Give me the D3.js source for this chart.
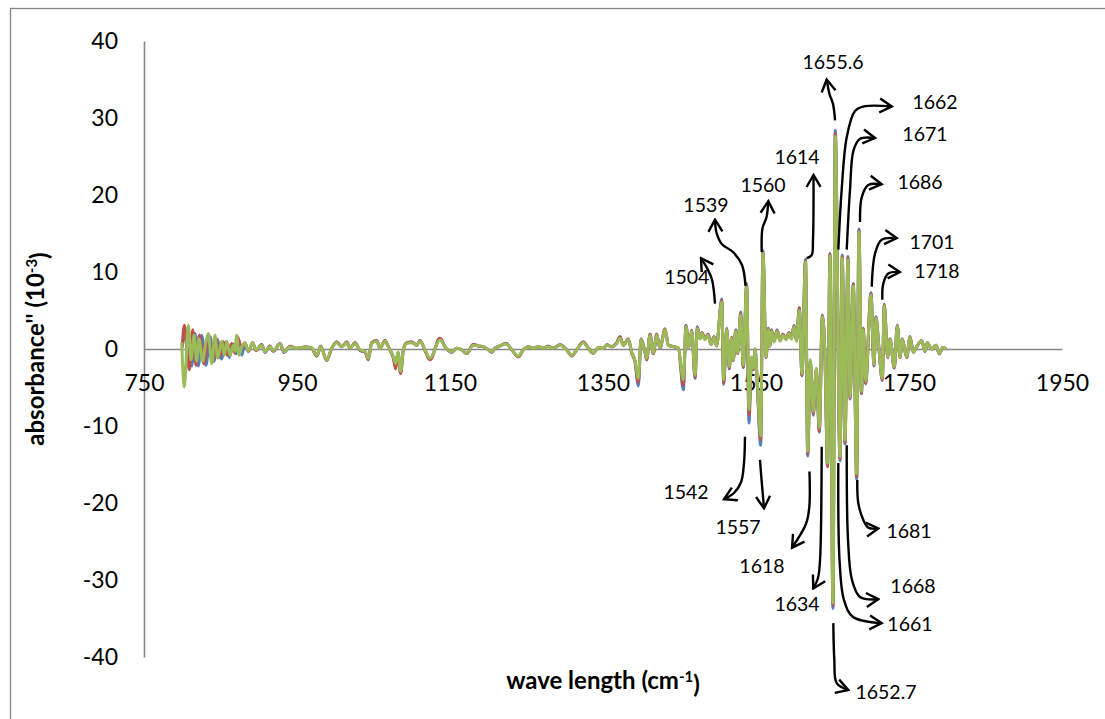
<!DOCTYPE html>
<html>
<head>
<meta charset="utf-8">
<script src="https://cdn.jsdelivr.net/npm/d3@7"></script>
<style>
  body { margin: 0; background: #fff; }
  svg { display: block; font-family: Lato, "Open Sans", sans-serif; }
</style>
</head>
<body>
<div id="chart"></div>
<script>
// chart size and plot box
const WIDTH = 1105, HEIGHT = 719;
const plot = {left: 144, right: 1062, top: 41, bottom: 657};

// axis ticks
const xTicks = [750, 950, 1150, 1350, 1550, 1750, 1950];
const yTicks = [-40, -30, -20, -10, 0, 10, 20, 30, 40];

// start of the spectrum, where the three runs are out of phase
const startWaveBlue = [800, 804.9, 812.3, 816.7, 821.0, 825.4, 831.0, 836.3, 841.5, 845.8, 851.6, 857.2, 861.5, 866.7, 870.3, 873.3];
const startAbsBlue = [0.2, 2.5, -2.2, 2.0, -2.2, 1.8, -2.1, 1.6, -1.6, 1.25, -1.3, 0.95, -1.1, 0.65, -0.65, 1.25];
const startWaveRed = [800, 802.7, 809.2, 813.7, 818.0, 822.3, 828.4, 834.1, 839.8, 844.1, 848.4, 853.7, 858.9, 864.6, 869.0, 872.0];
const startAbsRed = [0.3, 3.1, -2.7, 2.5, -2.1, 1.8, -1.9, 1.6, -1.6, 1.4, -1.1, 0.95, -0.8, 0.7, -0.55, 1.6];
const startWaveGreen = [799.3, 802.7, 807.9, 811.4, 815.4, 818.9, 821.9, 826.7, 830.4, 834.1, 838.5, 842.8, 846.3, 851.6, 855.0, 858.1, 862.4, 866.7, 869.0, 871.2, 874.2];
const startAbsGreen = [0.9, -4.9, 3.1, -1.4, 1.8, -1.6, 1.3, -1.6, 0.6, 2.0, -1.9, 1.8, -1.2, 1.0, -0.8, 1.0, -0.8, 0.5, -0.3, 1.8, -0.8];

// rest of the spectrum (wave number, cm-1), shared by the three runs
const wave = [
  877.7, 882.0, 886.3, 892.1, 896.4, 903.8, 908.2, 914.7, 919.0, 927.8,
  933.0, 940.9, 949.6, 960.5, 969.2, 975.8, 981.0, 988.8, 995.4, 1001.9,
  1008.4, 1015.0, 1019.3, 1025.8, 1032.4, 1038.9, 1043.2, 1047.6, 1054.2, 1058.5,
  1065.0, 1069.4, 1075.9, 1079.0, 1082.0, 1085.5, 1089.0, 1093.4, 1099.9, 1106.5,
  1110.8, 1117.3, 1123.9, 1136.9, 1143.5, 1152.2, 1158.8, 1165.3, 1171.8, 1180.5,
  1187.0, 1193.6, 1200.1, 1204.5, 1208.8, 1215.4, 1223.2, 1230.7, 1239.3, 1245.8,
  1252.4, 1258.9, 1265.4, 1272.0, 1278.5, 1285.0, 1293.8, 1302.5, 1309.1, 1315.6,
  1324.3, 1330.8, 1337.3, 1343.9, 1350.4, 1354.8, 1361.4, 1367.9, 1372.2, 1376.6,
  1383.1, 1387.5, 1391.8, 1396.2, 1399.7, 1404.9, 1407.1, 1411.5, 1415.8, 1420.2,
  1424.5, 1431.1, 1435.4, 1442.0, 1448.5, 1455.0, 1458.5, 1462.0, 1466.0, 1470.3,
  1473.3, 1476.8, 1479.4, 1483.3, 1487.3, 1491.2, 1495.1, 1498.4, 1505.2, 1507.8,
  1511.7, 1515.1, 1518.0, 1520.3, 1523.5, 1526.1, 1530.0, 1533.4, 1537.8, 1540.8,
  1544.1, 1546.7, 1548.7, 1551.3, 1556.1, 1559.1, 1563.1, 1566.1, 1568.3, 1570.5,
  1573.5, 1577.5, 1581.4, 1585.3, 1589.2, 1593.2, 1596.4, 1599.7, 1602.9, 1606.6,
  1610.1, 1614.7, 1617.6, 1621.0, 1624.9, 1628.7, 1632.8, 1636.7, 1640.2, 1643.5,
  1646.7, 1650.6, 1653.6, 1659.8, 1662.7, 1666.3, 1670.2, 1672.9, 1677.2, 1681.6,
  1684.6, 1687.9, 1690.2, 1693.3, 1700.3, 1704.2, 1706.8, 1710.8, 1715.1, 1717.7,
  1722.1, 1725.2, 1730.8, 1734.7, 1738.2, 1741.2, 1747.0, 1751.3, 1755.6, 1760.1,
  1766.6, 1770.9, 1773.9, 1779.7, 1785.3, 1789.6, 1794.1, 1798.4
];

const blueAbs = [
  -0.8, 0.7, -0.3, 0.8, -0.2, 0.6, -0.45, 0.4, -0.3, 0.7,
  -0.45, 0.35, 0.1, 0.25, 0.1, -0.9, 0.35, -1.5, 0.1, 0.9,
  0.3, 0.9, 0.1, 0.8, -0.2, -0.4, -1.3, 0.8, 1.1, 0.1,
  1.1, 0.3, -1.1, -2.2, -0.5, -3.1, -0.1, 0.8, 0.9, 0.5,
  1.1, -0.2, -1.3, 1.4, 0.3, -0.45, 0.1, -0.1, -0.6, 0.6,
  0.4, 0.3, -0.1, -0.45, 0.1, 0.4, 0.75, -0.1, -1.0, -0.1,
  0.3, 0.1, 0.3, 0.1, 0.35, 0.1, 0.55, -0.1, -0.9, -0.1,
  0.9, 0.1, -0.55, 0.2, 0.05, 0.55, 0.3, 0.8, 1.6, 0.5,
  1.3, -0.5, -1.6, -4.8, 1.3, -0.4, -1.4, 1.9, -0.6, 1.9,
  0.1, 2.6, 0.5, 0.3, 0.1, -5.3, 3.1, 0.2, 2.4, -3.8,
  2.9, 1.4, 2.1, 1.3, 1.9, 0.6, 1.6, 0.4, 6.5, -4.6,
  2.7, -2.6, 1.5, -1.5, 2.5, -0.6, 4.8, -2.4, 8.5, -9.6,
  -1.2, -2.7, 0.0, -3.8, -12.5, 12.8, -1.1, 2.7, 0.4, 2.5,
  1.0, 2.5, 1.1, 1.9, 1.3, 2.1, 1.4, 3.1, 1.1, 5.4,
  -3.5, 11.7, -13.9, -1.6, -8.6, -2.7, -10.8, 4.4, -1.1, -15.2,
  12.4, -33.7, 28.4, -14.5, 12.2, -12.3, 12.0, -6.5, 8.5, -16.9,
  15.6, -5.8, 2.7, -4.5, 7.3, -2.2, 4.2, 0.0, -4.1, 5.8,
  -1.1, 1.3, -2.5, 3.1, -1.1, 1.3, -1.1, 1.6, -0.45, 0.3,
  1.1, -0.35, 0.8, 0.0, 0.5, -0.65, 0.2, 0.0
];

const redAbs = [
  0.2, 0.8, -0.3, 0.8, -0.2, 0.6, -0.4, 0.4, -0.3, 0.7,
  -0.4, 0.35, 0.1, 0.25, 0.1, -0.9, 0.35, -1.5, 0.1, 0.9,
  0.3, 0.9, 0.1, 0.8, -0.2, -0.4, -1.4, 0.8, 1.1, 0.1,
  1.1, 0.3, -1.2, -2.6, -0.5, -3.2, -0.1, 0.8, 0.9, 0.5,
  1.1, -0.2, -1.4, 1.4, 0.3, -0.4, 0.1, -0.1, -0.6, 0.6,
  0.4, 0.3, -0.1, -0.4, 0.1, 0.4, 0.7, -0.1, -1.0, -0.1,
  0.3, 0.1, 0.3, 0.1, 0.35, 0.1, 0.55, -0.1, -0.9, -0.1,
  0.9, 0.1, -0.55, 0.2, 0.05, 0.55, 0.3, 0.8, 1.6, 0.5,
  1.3, -0.5, -1.6, -4.3, 1.3, -0.4, -1.4, 1.9, -0.6, 1.9,
  0.1, 2.6, 0.5, 0.3, 0.1, -4.7, 3.0, 0.2, 2.4, -3.7,
  2.8, 1.4, 2.1, 1.3, 1.9, 0.6, 1.6, 0.4, 6.3, -4.4,
  2.6, -2.5, 1.5, -1.5, 2.4, -0.6, 4.6, -2.3, 8.3, -8.6,
  -1.6, -2.6, 0.0, -3.7, -11.8, 12.6, -1.1, 2.6, 0.4, 2.4,
  1.0, 2.4, 1.1, 1.9, 1.3, 2.1, 1.4, 3.0, 1.1, 5.3,
  -3.4, 11.5, -13.6, -1.6, -8.4, -2.7, -10.6, 4.3, -1.1, -15.3,
  12.3, -33.3, 28.0, -14.3, 12.0, -12.1, 11.8, -6.4, 8.4, -16.6,
  15.4, -5.7, 2.6, -4.4, 7.2, -2.1, 4.1, 0.0, -4.0, 5.7,
  -1.1, 1.3, -2.4, 3.1, -1.1, 1.3, -1.1, 1.6, -0.4, 0.3,
  1.1, -0.3, 0.8, 0.0, 0.5, -0.6, 0.2, 0.0
];

const greenAbs = [
  0.3, 0.7, -0.2, 0.8, -0.1, 0.5, -0.35, 0.3, -0.2, 0.65,
  -0.35, 0.3, 0.1, 0.2, 0.15, -0.8, 0.3, -1.4, 0.1, 0.8,
  0.3, 0.8, 0.1, 0.7, -0.1, -0.3, -1.2, 0.7, 1.0, 0.1,
  1.0, 0.3, -1.0, -1.9, -0.4, -2.9, -0.1, 0.7, 0.8, 0.5,
  1.0, -0.1, -1.2, 1.2, 0.3, -0.35, 0.1, -0.1, -0.55, 0.5,
  0.4, 0.3, -0.1, -0.35, 0.1, 0.4, 0.65, -0.1, -0.9, -0.1,
  0.3, 0.1, 0.3, 0.1, 0.3, 0.1, 0.5, -0.1, -0.8, -0.1,
  0.8, 0.1, -0.5, 0.2, 0.05, 0.5, 0.3, 0.7, 1.4, 0.5,
  1.2, -0.4, -1.4, -3.8, 1.2, -0.3, -1.2, 1.8, -0.5, 1.8,
  0.1, 2.5, 0.5, 0.3, 0.1, -4.0, 2.9, 0.2, 2.3, -3.4,
  2.7, 1.3, 2.0, 1.2, 1.8, 0.6, 1.5, 0.4, 6.1, -4.0,
  2.5, -2.3, 1.4, -1.4, 2.3, -0.5, 4.4, -2.1, 8.1, -7.9,
  -1.0, -2.5, 0.0, -3.5, -11.3, 12.4, -1.0, 2.5, 0.4, 2.3,
  0.9, 2.3, 1.0, 1.8, 1.2, 2.0, 1.3, 2.9, 1.0, 5.0,
  -3.2, 11.3, -13.3, -1.4, -8.1, -2.5, -10.2, 4.2, -1.0, -14.8,
  12.1, -33.0, 27.6, -14.0, 11.8, -11.8, 11.6, -6.2, 8.2, -16.2,
  15.2, -5.5, 2.5, -4.2, 7.0, -2.0, 4.0, 0.0, -3.8, 5.6,
  -1.0, 1.2, -2.3, 3.0, -1.0, 1.2, -1.0, 1.5, -0.4, 0.3,
  1.1, -0.3, 0.8, 0.0, 0.5, -0.6, 0.2, 0.0
];

// peak annotations: label, label position and arrow path, all in data units
const peakLabels = ["1504", "1539", "1560", "1614", "1655.6", "1662", "1671", "1686", "1701", "1718",
                    "1542", "1557", "1618", "1634", "1652.7", "1661", "1668", "1681"];
const peakLabelPos = [
  [1459.5, 9.3], [1484.6, 18.7], [1559.2, 21.3], [1603.6, 24.9], [1650.7, 37.3],
  [1784.0, 32.1], [1770.9, 27.9], [1764.4, 21.7], [1780.1, 13.9], [1786.6, 10.1],
  [1458.5, -18.6], [1526.5, -23.1], [1557.8, -28.2], [1603.6, -33.1], [1719.9, -44.5],
  [1751.3, -35.7], [1755.2, -30.8], [1750.0, -23.6]
];
const peakArrows = [
  [[1496.4, 5.9], [1492.5, 9.0], [1486.0, 10.5], [1478.1, 11.8]],
  [[1536.3, 8.2], [1531.7, 10.9], [1519.9, 12.6], [1505.6, 13.6], [1498.4, 15.1], [1496.4, 16.8]],
  [[1557.5, 12.6], [1558.5, 15.7], [1563.7, 17.1], [1566.1, 19.2]],
  [[1616.3, 11.8], [1622.8, 12.2], [1624.5, 14.2], [1625.2, 22.6]],
  [[1653.3, 29.7], [1650.7, 31.8], [1646.1, 33.1], [1642.4, 35.0]],
  [[1657.6, 12.9], [1662.0, 20.7], [1668.6, 27.5], [1679.4, 30.9], [1691.2, 31.5], [1727.4, 31.5]],
  [[1668.6, 12.9], [1672.9, 20.7], [1677.5, 25.8], [1686.0, 27.3], [1705.6, 27.4]],
  [[1686.0, 16.5], [1688.2, 19.7], [1696.8, 21.3], [1714.3, 21.4]],
  [[1701.3, 8.1], [1705.6, 12.4], [1714.3, 14.2], [1733.9, 14.4]],
  [[1715.1, 6.4], [1716.4, 8.5], [1722.9, 9.8], [1738.2, 10.0]],
  [[1535.6, -11.4], [1534.3, -14.8], [1530.4, -17.3], [1521.2, -18.7], [1508.2, -19.5]],
  [[1555.2, -14.4], [1557.5, -17.3], [1559.2, -19.2], [1560.5, -20.7]],
  [[1619.9, -15.9], [1619.7, -20.5], [1615.4, -22.7], [1597.1, -25.8]],
  [[1635.9, -12.7], [1633.7, -27.4], [1631.1, -29.7], [1624.9, -31.1]],
  [[1651.1, -35.6], [1652.4, -40.4], [1655.5, -43.4], [1670.7, -44.3]],
  [[1657.6, -14.8], [1659.2, -27.4], [1665.0, -32.6], [1676.8, -34.8], [1714.3, -35.6]],
  [[1668.6, -12.5], [1670.3, -24.8], [1675.5, -30.0], [1686.0, -32.2], [1709.9, -32.5]],
  [[1682.4, -17.0], [1683.7, -20.0], [1690.3, -22.2], [1696.8, -23.2], [1709.9, -23.3]]
];

const COLORS = {blue: "#4F81BD", red: "#C0504D", green: "#9BBB59", axis: "#868686"};

// series table built from the arrays above, drawn blue, red, then green on top
const series = [
  {color: COLORS.blue, waves: startWaveBlue.concat(wave), values: startAbsBlue.concat(blueAbs)},
  {color: COLORS.red, waves: startWaveRed.concat(wave), values: startAbsRed.concat(redAbs)},
  {color: COLORS.green, waves: startWaveGreen.concat(wave), values: startAbsGreen.concat(greenAbs)}
];

let svg = d3.select("#chart")
    .append("svg")
    .attr("width", WIDTH)
    .attr("height", HEIGHT);

// outer chart frame
svg.append("rect")
    .attr("x", 10.5)
    .attr("y", 8.5)
    .attr("width", 1200)
    .attr("height", 800)
    .attr("fill", "none")
    .attr("stroke", COLORS.axis)
    .attr("stroke-width", 1.3);

let x = d3.scaleLinear().domain([750, 1950]).range([plot.left, plot.right]);
let y = d3.scaleLinear().domain([-40, 40]).range([plot.bottom, plot.top]);

// y axis on the left edge
let yAxis = svg.append("g")
    .attr("transform", `translate(${x(750)}, 0)`)
    .call(d3.axisLeft(y).tickValues(yTicks).tickFormat(d => String(d)).tickSize(0).tickPadding(26));

// x axis crossing at zero
let xAxis = svg.append("g")
    .attr("transform", `translate(0, ${y(0)})`)
    .call(d3.axisBottom(x).tickValues(xTicks).tickFormat(d => String(d)).tickSize(0).tickPadding(26));

[xAxis, yAxis].forEach(function(g) {
    g.select(".domain").attr("stroke", COLORS.axis).attr("stroke-width", 1.6);
    g.selectAll("text")
        .attr("fill", "#000")
        .style("font-size", "23px")
        .style("font-family", "Lato, sans-serif");
});

// spectra
let line = d3.line()
    .x(d => x(d[0]))
    .y(d => y(d[1]))
    .curve(d3.curveMonotoneX);

svg.append("g")
    .selectAll("path")
    .data(series)
    .enter()
    .append("path")
    .attr("d", d => line(d.waves.map((w, i) => [w, d.values[i]])))
    .attr("fill", "none")
    .attr("stroke", d => d.color)
    .attr("stroke-width", 3)
    .attr("stroke-linejoin", "round");

// open chevron arrow head
svg.append("defs").append("marker")
    .attr("id", "chevron")
    .attr("markerUnits", "userSpaceOnUse")
    .attr("viewBox", "-2 -2 16 18")
    .attr("markerWidth", 16)
    .attr("markerHeight", 18)
    .attr("refX", 12)
    .attr("refY", 7)
    .attr("orient", "auto")
    .append("path")
    .attr("d", "M0,0 L12,7 L0,14")
    .attr("fill", "none")
    .attr("stroke", "#000")
    .attr("stroke-width", 2.4)
    .attr("stroke-linejoin", "miter");

let arrowLine = d3.line()
    .x(d => x(d[0]))
    .y(d => y(d[1]))
    .curve(d3.curveCatmullRom.alpha(0.5));

svg.append("g")
    .selectAll("path")
    .data(peakArrows)
    .enter()
    .append("path")
    .attr("d", d => arrowLine(d))
    .attr("fill", "none")
    .attr("stroke", "#000")
    .attr("stroke-width", 2.4)
    .attr("marker-end", "url(#chevron)");

svg.append("g")
    .selectAll("text")
    .data(peakLabels)
    .enter()
    .append("text")
    .attr("x", (d, i) => x(peakLabelPos[i][0]))
    .attr("y", (d, i) => y(peakLabelPos[i][1]))
    .attr("dy", "0.36em")
    .attr("text-anchor", "middle")
    .style("font-size", "19.5px")
    .text(d => d);

// axis titles
let yTitle = svg.append("text")
    .attr("transform", `translate(44, ${(plot.top + plot.bottom) / 2})rotate(-90)`)
    .attr("text-anchor", "middle")
    .style("font-size", "24px")
    .style("font-weight", "bold");
yTitle.append("tspan").text("absorbance'' (10");
yTitle.append("tspan").attr("dy", "-0.45em").style("font-size", "15px").text("-3");
yTitle.append("tspan").attr("dy", "0.45em").text(")");

let xTitle = svg.append("text")
    .attr("x", (plot.left + plot.right) / 2)
    .attr("y", 689)
    .attr("text-anchor", "middle")
    .style("font-size", "24px")
    .style("font-weight", "bold");
xTitle.append("tspan").text("wave length (cm");
xTitle.append("tspan").attr("dy", "-0.45em").style("font-size", "15px").text("-1");
xTitle.append("tspan").attr("dy", "0.45em").text(")");
</script>
</body>
</html>
